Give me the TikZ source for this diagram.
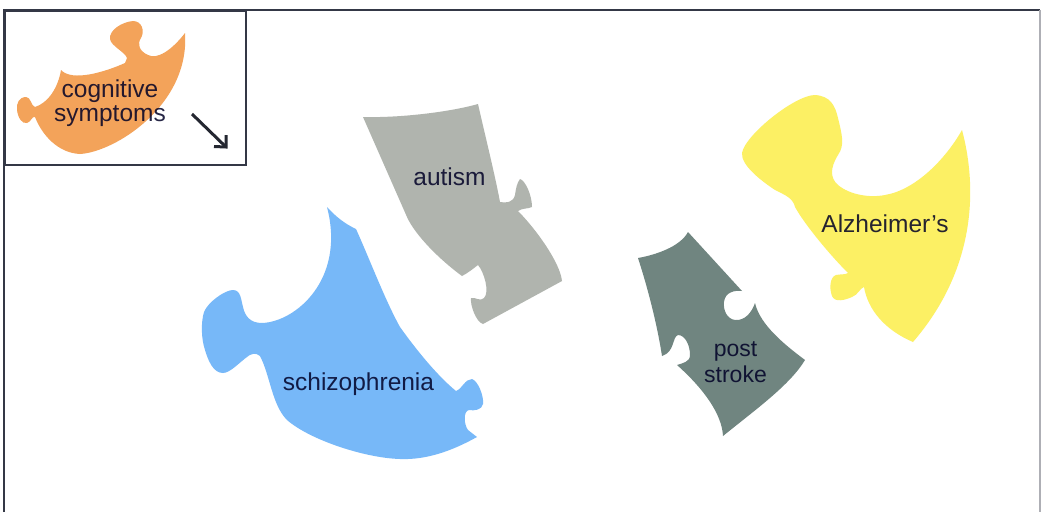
\documentclass[tikz,border=0pt]{standalone}
\usepackage{fontspec}
\setmainfont{Liberation Sans}
\definecolor{orangep}{RGB}{243,163,90}
\definecolor{bluep}{RGB}{119,184,248}
\definecolor{grayp}{RGB}{176,180,174}
\definecolor{darkp}{RGB}{112,133,128}
\definecolor{yellowp}{RGB}{252,240,100}
\definecolor{framec}{RGB}{52,56,70}
\tikzset{
  x=1pt,y=-1pt,
  lbl/.style={align=center,inner sep=0pt,text=black!85!blue,text opacity=0.85}
}
\begin{document}
\begin{tikzpicture}
\useasboundingbox (0,0) rectangle (1042,512);
\fill[white] (0,0) rectangle (1042,512);
% frame
\coordinate (f1) at (4,512);
\coordinate (f2) at (4,10);
\coordinate (f3) at (1040,10);
\coordinate (f4) at (1040,512);
\draw[framec,line width=2.2pt] (f1) -- (f2) -- (f3);
\draw[framec!40,line width=1.2pt] (f3) -- (f4);
% orange
\fill[orangep] (185,33) .. controls (172,50) and (157,60) .. (148,55)
  .. controls (139,51) and (137,44) .. (141,38)
  .. controls (145,31) and (142,21) .. (133,21)
  .. controls (122,22) and (109,30) .. (110,39)
  .. controls (111,46) and (125,52) .. (127,58)
  -- (125,63) .. controls (105,72) and (72,82) .. (61,70)
  .. controls (58,88) and (48,103) .. (35,107)
  .. controls (31,106) and (31,97) .. (26,97)
  .. controls (19,97) and (16,104) .. (17,110)
  .. controls (18,118) and (22,124) .. (27,123)
  .. controls (31,122) and (32,116) .. (35,117)
  .. controls (42,135) and (58,153) .. (80,154)
  .. controls (115,152) and (190,105) .. (185,33) -- cycle;
% blue
\fill[bluep] (327,207) .. controls (335,216) and (345,224) .. (356,229)
  .. controls (370,260) and (385,300) .. (400,327)
  .. controls (420,355) and (440,378) .. (456,391)
  .. controls (462,389) and (465,379) .. (472,379)
  .. controls (478,381) and (484,396) .. (483,404)
  .. controls (482,410) and (474,411) .. (469,410)
  .. controls (463,411) and (464,425) .. (468,430)
  -- (477,437) .. controls (450,452) and (425,460) .. (400,459)
  .. controls (365,458) and (310,440) .. (287,420)
  .. controls (272,405) and (270,375) .. (260,356)
  .. controls (256,352) and (250,354) .. (247,357)
  .. controls (240,362) and (230,373) .. (223,373)
  .. controls (213,373) and (208,360) .. (205,350)
  .. controls (201,338) and (201,322) .. (204,312)
  .. controls (208,302) and (225,290) .. (233,290)
  .. controls (241,290) and (241,300) .. (243,307)
  .. controls (245,316) and (250,323) .. (262,323)
  .. controls (295,322) and (346,280) .. (327,207) -- cycle;
% gray
\fill[grayp] (363,117) .. controls (400,118) and (450,112) .. (478,104)
  .. controls (485,135) and (495,175) .. (500,202)
  .. controls (506,203) and (513,203) .. (515,195)
  .. controls (516,188) and (517,183) .. (520,179)
  .. controls (525,180) and (532,195) .. (532,207)
  .. controls (528,209) and (522,208) .. (518,211)
  .. controls (535,228) and (560,262) .. (562,281)
  -- (483,324) .. controls (476,322) and (470,305) .. (471,298)
  .. controls (476,297) and (480,302) .. (484,298)
  .. controls (490,292) and (484,272) .. (478,265)
  .. controls (474,268) and (468,273) .. (462,276)
  .. controls (440,260) and (415,235) .. (407,217) -- cycle;
% dark
\fill[darkp] (638,258) .. controls (655,255) and (680,247) .. (688,232)
  -- (742,291) .. controls (735,290) and (725,292) .. (724,302)
  .. controls (723,310) and (727,319) .. (735,320)
  .. controls (745,321) and (752,312) .. (755,303)
  .. controls (760,325) and (785,345) .. (805,360)
  .. controls (790,385) and (755,410) .. (723,436)
  .. controls (722,415) and (705,390) .. (677,365)
  .. controls (683,363) and (690,362) .. (690,355)
  .. controls (690,345) and (685,335) .. (678,335)
  .. controls (672,337) and (675,352) .. (662,356)
  .. controls (658,330) and (650,295) .. (638,258) -- cycle;
% yellow
\fill[yellowp] (962,130) .. controls (978,190) and (975,270) .. (913,342)
  .. controls (885,330) and (868,310) .. (864,287)
  .. controls (860,288) and (858,295) .. (852,297)
  .. controls (845,300) and (835,303) .. (832,296)
  .. controls (829,288) and (830,277) .. (836,275)
  .. controls (840,274) and (845,275) .. (848,273)
  .. controls (830,255) and (805,225) .. (795,207)
  .. controls (793,198) and (785,195) .. (775,190)
  .. controls (760,180) and (741,165) .. (742,153)
  .. controls (745,135) and (795,95) .. (815,95)
  .. controls (830,96) and (835,105) .. (838,118)
  .. controls (842,135) and (845,145) .. (838,155)
  .. controls (830,168) and (830,178) .. (838,185)
  .. controls (850,195) and (870,198) .. (885,195)
  .. controls (915,190) and (945,160) .. (962,130) -- cycle;
% inset
\coordinate (i1) at (5,11);
\coordinate (i2) at (246,11);
\coordinate (i3) at (246,165);
\coordinate (i4) at (5,165);
\draw[framec,line width=1.8pt] (i1) -- (i2) -- (i3) -- (i4) -- cycle;
\coordinate (a1) at (192,114);
\coordinate (a2) at (226,147);
\coordinate (a3) at (226,135);
\coordinate (a4) at (214,146.5);
\draw[framec!70!black,line width=3pt] (a1) -- (a2);
\draw[framec!70!black,line width=3pt,line join=miter] (a3) -- (a2) -- (a4);
% labels
\node[lbl,font=\fontsize{24.5}{24}\selectfont] (tcog) at (110,103) {cognitive\\symptoms};
\node[lbl,font=\fontsize{24.5}{24}\selectfont] (taut) at (449.5,177) {autism};
\node[lbl,font=\fontsize{24.5}{24}\selectfont] (tsch) at (358.5,384) {schizophrenia};
\node[lbl,font=\fontsize{23}{26}\selectfont] (tpst) at (735.5,362) {post\\stroke};
\node[lbl,font=\fontsize{24.5}{24}\selectfont] (talz) at (885,224) {Alzheimer's};
\end{tikzpicture}
\end{document}
